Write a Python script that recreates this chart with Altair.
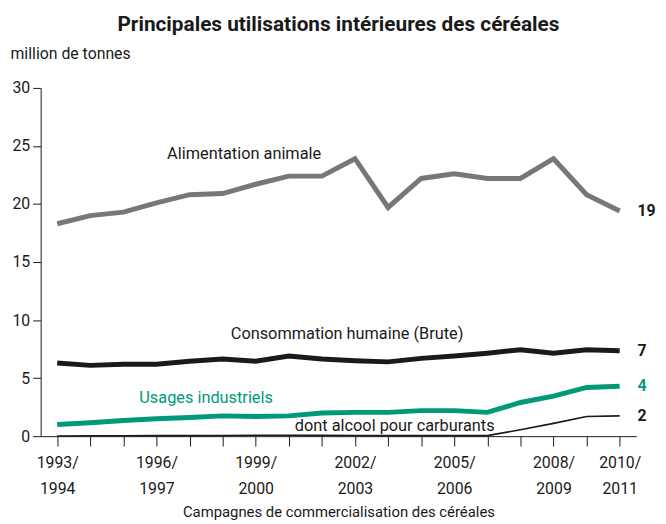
import altair as alt
import pandas as pd

years = list(range(1993, 2011))
alimentation_animale = [18.3, 19.0, 19.3, 20.1, 20.8, 20.9, 21.7, 22.4, 22.4, 23.9,
                        19.7, 22.2, 22.6, 22.2, 22.2, 23.9, 20.8, 19.4]
consommation_humaine = [6.3, 6.1, 6.2, 6.2, 6.45, 6.65, 6.45, 6.9, 6.65, 6.5,
                        6.4, 6.7, 6.9, 7.15, 7.45, 7.15, 7.45, 7.35]
usages_industriels = [1.0, 1.15, 1.35, 1.5, 1.6, 1.75, 1.7, 1.75, 2.0, 2.05,
                      2.05, 2.2, 2.2, 2.05, 2.9, 3.45, 4.2, 4.3]
alcool_carburants = [0.02, 0.03, 0.04, 0.05, 0.05, 0.06, 0.08, 0.08, 0.07, 0.06,
                     0.05, 0.05, 0.05, 0.05, 0.55, 1.1, 1.7, 1.75]

series_names = ["Alimentation animale", "Consommation humaine (Brute)",
                "Usages industriels", "dont alcool pour carburants"]
series_values = [alimentation_animale, consommation_humaine,
                 usages_industriels, alcool_carburants]
series_colors = ["#76777a", "#1a1a1a", "#00997a", "#1a1a1a"]
text_colors = ["#1a1a1a", "#1a1a1a", "#00997a", "#1a1a1a"]
end_labels = ["19", "7", "4", "2"]
labelled_years = [1993, 1996, 1999, 2002, 2005, 2008, 2010]

label_x = [1998.65, 2001.76, 1997.5, 2003.2]
label_y = [24.3, 8.78, 3.25, 0.85]

FONT = "Roboto"

rows = []
for name, vals in zip(series_names, series_values):
    for y, v in zip(years, vals):
        rows.append({"year": y, "value": v, "serie": name})
df = pd.DataFrame(rows)

lab_df = pd.DataFrame({"serie": series_names, "x": label_x, "y": label_y})
end_df = pd.DataFrame({"serie": series_names, "year": [years[-1]] * 4,
                       "value": [s[-1] for s in series_values], "txt": end_labels})

xscale = alt.Scale(domain=[1992.5, 2010.5], nice=False, zero=False)
yscale = alt.Scale(domain=[0, 30], nice=False)
cscale = alt.Scale(domain=series_names, range=series_colors)
tscale = alt.Scale(domain=series_names, range=text_colors)

label_expr = ("indexof(" + str(labelled_years) + ", datum.value) >= 0 ? "
              "[toString(datum.value) + '/', toString(datum.value + 1)] : ''")

x_axis = alt.Axis(values=years, labelExpr=label_expr, grid=False,
                  labelOverlap=False, labelBound=False,
                  tickSize=10, labelFontSize=16, labelFont=FONT,
                  labelColor="#1a1a1a", domainColor="#1a1a1a",
                  tickColor="#1a1a1a", labelPadding=9, labelLineHeight=26,
                  title="Campagnes de commercialisation des céréales",
                  titleFont=FONT, titleFontSize=15, titleFontWeight="normal",
                  titleColor="#1a1a1a", titlePadding=8)
y_axis = alt.Axis(values=[0, 5, 10, 15, 20, 25, 30], grid=False, tickSize=8,
                  labelFontSize=16, labelFont=FONT, labelColor="#1a1a1a",
                  domainColor="#1a1a1a", tickColor="#1a1a1a", labelPadding=3,
                  title="million de tonnes", titleAngle=0, titleAlign="left",
                  titleBaseline="alphabetic", titleX=-31, titleY=-30,
                  titleFont=FONT, titleFontSize=16, titleFontWeight="normal",
                  titleColor="#1a1a1a")

def xe(field):
    return alt.X(field, scale=xscale, axis=x_axis)

def ye(field):
    return alt.Y(field, scale=yscale, axis=y_axis)

thick = alt.Chart(df).transform_filter(
    alt.datum.serie != "dont alcool pour carburants"
).mark_line(strokeJoin="miter", strokeCap="butt", strokeWidth=5).encode(
    x=xe("year:Q"), y=ye("value:Q"),
    color=alt.Color("serie:N", scale=cscale, legend=None),
)
thin = alt.Chart(df).transform_filter(
    alt.datum.serie == "dont alcool pour carburants"
).mark_line(strokeWidth=1.6, color="#1a1a1a").encode(
    x=xe("year:Q"), y=ye("value:Q"),
)

labels = alt.Chart(lab_df).mark_text(font=FONT, fontSize=16.5, align="center",
                                     baseline="middle").encode(
    x=xe("x:Q"), y=ye("y:Q"),
    text="serie:N",
    color=alt.Color("serie:N", scale=tscale, legend=None),
)
ends = alt.Chart(end_df).mark_text(font=FONT, fontSize=16, fontWeight="bold",
                                   align="left", baseline="middle", dx=18).encode(
    x=xe("year:Q"), y=ye("value:Q"),
    text="txt:N",
    color=alt.Color("serie:N", scale=tscale, legend=None),
)

chart = alt.layer(thick, thin, labels, ends).resolve_scale(color="independent").properties(
    width=602, height=352,
    autosize=alt.AutoSizeParams(type="none"),
    padding={"left": 33, "top": 78, "right": 22, "bottom": 86},
    title=alt.TitleParams("Principales utilisations intérieures des céréales",
                          font=FONT, fontSize=21, fontWeight="bold",
                          color="#1a1a1a", anchor="middle", offset=11),
).configure(background="white").configure_axisX(
    labelOverlap=False
).configure_view(stroke=None)

chart.save("out.html", embed_options={"renderer": "svg", "actions": False})
